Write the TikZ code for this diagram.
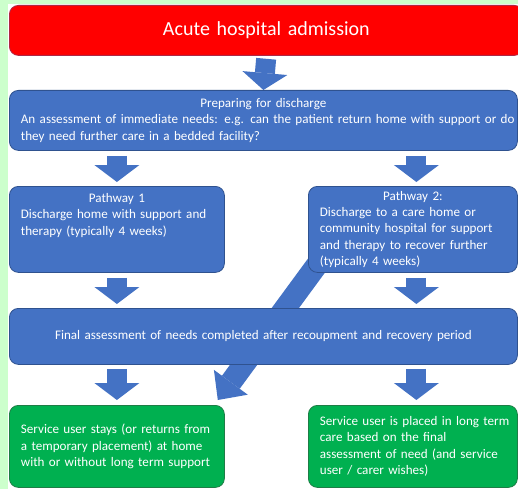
\documentclass[tikz,border=0pt]{standalone}
\usepackage{fontspec}
\setmainfont{Carlito}
\usepackage{tikz}
\usetikzlibrary{arrows.meta}

\definecolor{paleGreen}{HTML}{CCFFCC}
\definecolor{admRed}{HTML}{FF0000}
\definecolor{admRedLine}{RGB}{175,40,70}
\definecolor{stepBlue}{HTML}{4472C4}
\definecolor{stepBlueLine}{HTML}{2F528F}
\definecolor{endGreen}{HTML}{00B050}
\definecolor{endGreenLine}{RGB}{30,125,70}

\newcommand\boxfont{\fontsize{13.1}{16.3}\selectfont}
\newcommand\headfont{\fontsize{20}{24}\selectfont}

\pgfdeclarelayer{bg}
\pgfdeclarelayer{back}
\pgfsetlayers{bg,back,main}

\begin{document}
\begin{tikzpicture}[x=1pt,y=1pt,
  box/.style={anchor=north west,rounded corners=9pt,line width=0.8pt,
    inner xsep=11.5pt,inner ysep=0pt,text=white,font=\boxfont,
    execute at begin node={\parindent=0pt}},
  bluebox/.style={box,fill=stepBlue,draw=stepBlueLine},
  greenbox/.style={box,fill=endGreen,draw=endGreenLine},
  blockarrow/.style={stepBlue,line width=20pt,
    -{Triangle[width=45pt,length=17pt,line width=0pt]},
    shorten <=5pt,shorten >=4pt}]
\useasboundingbox (0,0) rectangle (518,-489);
% objects at depth 100:
\begin{pgfonlayer}{bg}
\path[fill=white] (0,0) rectangle (518,-489);
\path[fill=paleGreen] (0,0) rectangle (8,-489);
\path[fill=paleGreen] (0,0) rectangle (518,-4);
\end{pgfonlayer}
% objects at depth 50:
\node[box,fill=admRed,draw=admRedLine,text width=491pt,minimum height=50pt,
  align=center,font=\headfont] (admit) at (9,-5) {Acute hospital admission};
\node[bluebox,text width=485pt,minimum height=60pt] (prep) at (9,-90)
  {\centering Preparing for discharge\par
   \raggedright\mbox{An assessment of immediate needs: e.g. can the patient return home with support or do}\\
   \mbox{they need further care in a bedded facility?}};
\node[bluebox,text width=192pt,minimum height=86pt] (p1) at (9,-186)
  {\centering Pathway 1\par
   \raggedright\mbox{Discharge home with support and}\\
   \mbox{therapy (typically 4 weeks)}\rule[-30pt]{0pt}{30pt}};
\node[bluebox,text width=186pt,minimum height=86pt] (p2) at (308,-186)
  {\centering Pathway 2:\par
   \raggedright\mbox{Discharge to a care home or}\\
   \mbox{community hospital for support}\\
   \mbox{and therapy to recover further}\\
   \mbox{(typically 4 weeks)}};
\node[bluebox,text width=485pt,minimum height=56pt,align=center] (final) at (9,-308)
  {Final assessment of needs completed after recoupment and recovery period};
\node[greenbox,text width=192pt,minimum height=82pt] (g1) at (9,-405)
  {\raggedright\mbox{Service user stays (or returns from}\\
   \mbox{a temporary placement) at home}\\
   \mbox{with or without long term support}};
\node[greenbox,text width=186pt,minimum height=82pt] (g2) at (308,-405)
  {\raggedright\mbox{Service user is placed in long term}\\
   \mbox{care based on the final}\\
   \mbox{assessment of need (and service}\\
   \mbox{user / carer wishes)}};
% objects at depth 75:
\draw[blockarrow,shorten <=3pt,shorten >=0pt] (admit.south) -- (prep.north);
\draw[blockarrow] (prep.south -| p1.north) -- (p1.north);
\draw[blockarrow] ([xshift=3.5pt]prep.south -| p2.north) -- ([xshift=3.5pt]p2.north);
\draw[blockarrow] (p1.south) -- (final.north -| p1.south);
\draw[blockarrow] ([xshift=3.5pt]p2.south) -- ([xshift=3.5pt]final.north -| p2.south);
\draw[blockarrow,shorten <=4pt,shorten >=5pt] (final.south -| g1.north) -- (g1.north);
\draw[blockarrow,shorten <=4pt,shorten >=5pt] ([xshift=3.5pt]final.south -| g2.north) -- ([xshift=3.5pt]g2.north);
\begin{pgfonlayer}{back}
\draw[blockarrow,line width=22pt,shorten <=0pt,shorten >=0pt,
  -{Triangle[width=42pt,length=22pt,line width=0pt]}]
  ([shift={(12pt,12pt)}]p2.south west) -- ([shift={(-7pt,5pt)}]g1.north east);
\end{pgfonlayer}
\end{tikzpicture}
\end{document}
